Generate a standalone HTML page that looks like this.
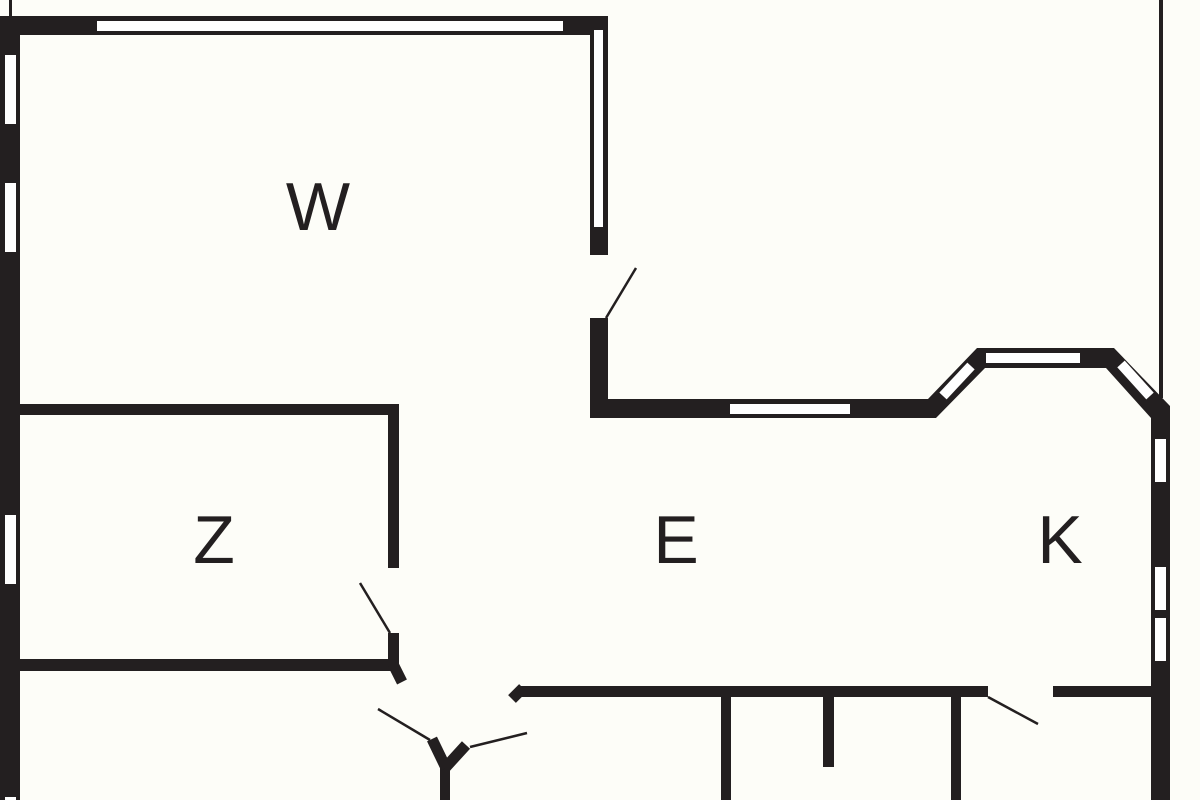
<!DOCTYPE html>
<html><head><meta charset="utf-8"><style>
html,body{margin:0;padding:0;background:#fdfdf8;}
svg{display:block;}
</style></head><body>
<svg width="1200" height="800" viewBox="0 0 1200 800" xmlns="http://www.w3.org/2000/svg">
<rect width="1200" height="800" fill="#fdfdf8"/>
<g fill="#231f20">
<rect x="0" y="16" width="20" height="784"/>
<rect x="9" y="0" width="3" height="16"/>
<rect x="0" y="16" width="608" height="19"/>
<rect x="590" y="16" width="18" height="239"/>
<rect x="590" y="318" width="18" height="100"/>
<polygon points="590,399 928,399 977,348 1114,348 1170,406 1170,800 1151,800 1151,418 1106,368 985,368 936,418 590,418"/>
<rect x="1159" y="0" width="4" height="398"/>
<rect x="20" y="404" width="379" height="11"/>
<rect x="388" y="404" width="11" height="164"/>
<rect x="388" y="633" width="11" height="34"/>
<rect x="20" y="659" width="379" height="12"/>
<rect x="520" y="686" width="468" height="11"/>
<rect x="1053" y="686" width="98" height="11"/>
<rect x="721" y="697" width="10" height="103"/>
<rect x="823" y="697" width="11" height="70"/>
<rect x="951" y="697" width="10" height="103"/>
<rect x="440" y="765" width="10" height="35"/>
</g>
<g stroke="#231f20" stroke-linecap="butt" fill="none">
<line x1="393" y1="664" x2="402" y2="682" stroke-width="11"/>
<line x1="432" y1="739" x2="446" y2="768" stroke-width="11"/>
<line x1="445" y1="768" x2="466" y2="745" stroke-width="11"/>
<line x1="512" y1="699" x2="523" y2="688" stroke-width="11"/>
<line x1="606" y1="318" x2="636" y2="268" stroke-width="2.5"/>
<line x1="390" y1="633" x2="360" y2="583" stroke-width="2.5"/>
<line x1="378" y1="709" x2="430" y2="740" stroke-width="2.5"/>
<line x1="470" y1="747" x2="527" y2="733" stroke-width="2.5"/>
<line x1="988" y1="697" x2="1038" y2="724" stroke-width="2.5"/>
</g>
<g fill="#ffffff">
<rect x="97" y="21" width="466" height="10"/>
<rect x="594" y="30" width="9" height="197"/>
<rect x="5" y="55" width="11" height="69"/>
<rect x="5" y="183" width="11" height="69"/>
<rect x="5" y="515" width="11" height="69"/>
<rect x="5" y="797" width="11" height="3"/>
<rect x="730" y="404" width="120" height="10"/>
<rect x="986" y="353" width="94" height="10"/>
<rect x="1155" y="439" width="11" height="43"/>
<rect x="1155" y="567" width="11" height="43"/>
<rect x="1155" y="618" width="11" height="43"/>
</g>
<g stroke="#ffffff" stroke-width="10" fill="none">
<line x1="943" y1="396" x2="971" y2="366"/>
<line x1="1121" y1="364" x2="1150" y2="396"/>
</g>
<g font-family="'Liberation Sans', 'DejaVu Sans', sans-serif" font-size="68" fill="#231f20" text-anchor="middle">
<text x="318" y="230">W</text>
<text x="214" y="563">Z</text>
<text x="676" y="563">E</text>
<text x="1060" y="563">K</text>
</g>
</svg>
</body></html>
